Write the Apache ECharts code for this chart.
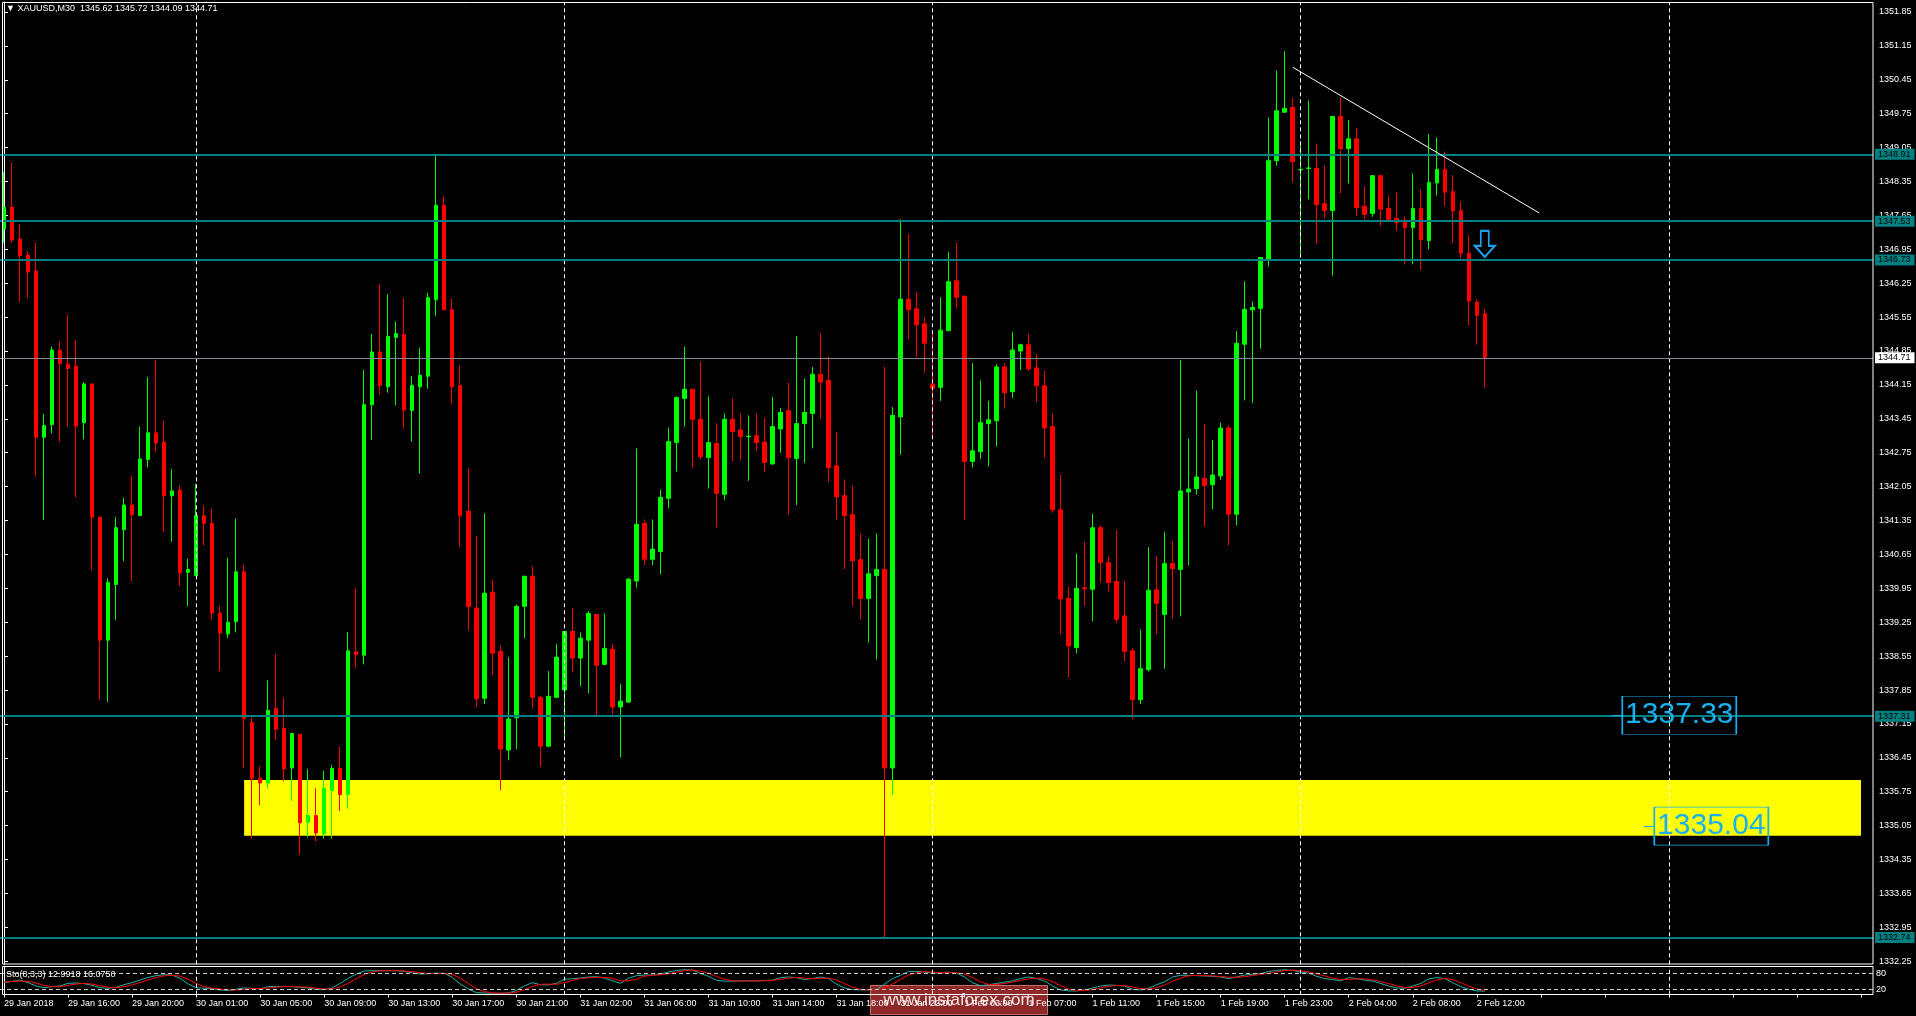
<!DOCTYPE html>
<html><head><meta charset="utf-8">
<script src="https://cdn.jsdelivr.net/npm/echarts@6/dist/echarts.min.js"></script>
<style>html,body{margin:0;padding:0;background:#000;overflow:hidden}#c{width:1916px;height:1016px;}</style>
</head><body><div id="c"></div>
<script>
// ---- DATA (XAUUSD M30) ----
const opens=[1347.37,1347.82,1347.16,1346.83,1346.50,1343.07,1343.33,1344.87,1344.58,1344.54,1343.37,1344.17,1341.42,1338.88,1340.03,1341.16,1341.67,1341.45,1342.61,1343.16,1342.97,1341.86,1341.98,1340.28,1340.21,1341.45,1341.29,1339.44,1339.01,1339.26,1340.29,1337.18,1336.03,1335.93,1337.47,1337.06,1336.24,1336.93,1335.12,1335.26,1334.88,1335.77,1336.23,1335.69,1338.64,1338.57,1343.74,1344.83,1344.11,1345.13,1345.19,1343.62,1344.11,1344.33,1345.91,1347.86,1345.70,1344.14,1341.54,1339.54,1337.68,1339.87,1338.65,1336.61,1337.28,1339.58,1340.20,1337.70,1336.69,1337.70,1337.85,1339.06,1338.51,1338.88,1339.41,1338.38,1338.69,1337.50,1337.60,1340.10,1341.29,1340.55,1340.71,1341.81,1342.96,1343.87,1344.06,1343.44,1342.65,1342.94,1341.89,1343.44,1343.22,1343.08,1343.10,1342.97,1342.52,1343.24,1343.62,1342.63,1343.35,1343.56,1344.37,1344.24,1342.48,1341.86,1341.47,1340.54,1339.74,1340.21,1340.34,1336.24,1343.49,1345.92,1345.72,1345.41,1344.17,1344.10,1345.27,1346.30,1345.98,1342.57,1342.77,1343.35,1343.41,1344.52,1344.01,1344.85,1344.98,1344.50,1344.13,1343.29,1341.57,1339.74,1338.73,1339.96,1339.93,1341.20,1340.48,1340.09,1339.38,1338.66,1337.65,1338.27,1339.92,1339.41,1340.46,1340.34,1341.94,1342.01,1342.22,1342.09,1342.27,1343.26,1341.48,1344.99,1345.70,1345.73,1346.74,1348.78,1349.78,1349.88,1348.59,1348.62,1348.62,1347.89,1347.75,1349.69,1349.03,1349.23,1347.84,1347.69,1348.47,1347.79,1347.59,1347.51,1347.40,1347.79,1347.13,1348.32,1348.60,1348.14,1347.75,1346.87,1345.86,1345.62];
const highs=[1348.54,1348.73,1347.47,1346.91,1347.08,1343.55,1344.94,1345.05,1345.59,1345.08,1344.21,1344.17,1341.42,1340.15,1341.42,1341.82,1342.27,1343.29,1344.31,1344.67,1343.41,1342.41,1342.08,1340.56,1342.11,1341.66,1341.60,1339.58,1340.58,1341.39,1340.44,1337.28,1336.27,1338.05,1338.60,1337.70,1336.97,1336.95,1336.22,1335.82,1336.18,1336.30,1336.68,1339.05,1339.95,1344.46,1345.20,1346.23,1346.02,1345.46,1345.95,1344.33,1344.92,1346.05,1348.88,1348.04,1345.93,1344.55,1342.43,1341.02,1341.50,1340.12,1338.77,1338.53,1339.61,1340.20,1340.40,1337.72,1338.24,1338.80,1339.06,1339.54,1339.04,1339.48,1339.41,1339.43,1338.80,1337.97,1340.16,1342.84,1341.37,1341.37,1341.99,1343.27,1343.91,1344.94,1344.06,1344.63,1343.91,1343.36,1343.56,1343.87,1343.56,1343.52,1343.56,1343.47,1343.90,1343.67,1344.19,1345.16,1344.28,1344.52,1345.22,1344.73,1343.17,1342.20,1342.07,1341.08,1340.97,1341.08,1344.52,1343.69,1347.57,1347.26,1346.07,1345.55,1345.28,1345.96,1346.89,1347.08,1346.00,1344.60,1344.24,1343.82,1344.58,1344.60,1345.24,1345.00,1345.20,1344.79,1344.44,1343.56,1342.29,1339.98,1340.67,1340.91,1341.49,1341.25,1340.61,1341.16,1340.10,1338.72,1339.10,1340.80,1340.62,1341.12,1340.93,1344.66,1343.04,1344.03,1343.34,1343.01,1343.37,1343.32,1345.26,1346.29,1345.87,1346.78,1349.67,1350.64,1351.04,1350.07,1349.15,1350.02,1349.13,1348.68,1349.69,1350.09,1349.62,1349.46,1348.25,1348.47,1348.47,1348.06,1348.12,1347.62,1348.52,1348.19,1349.33,1349.26,1348.97,1348.48,1347.94,1347.24,1345.91,1345.72];
const lows=[1347.09,1347.09,1345.87,1345.95,1342.26,1341.36,1343.15,1342.98,1343.28,1341.83,1343.03,1340.32,1337.64,1337.60,1339.30,1340.51,1340.10,1341.45,1342.45,1342.77,1341.11,1340.91,1340.00,1339.58,1340.21,1340.84,1339.30,1338.24,1338.92,1339.04,1336.24,1334.78,1335.47,1335.82,1336.82,1335.97,1335.56,1334.45,1334.81,1334.73,1334.78,1334.78,1335.35,1335.40,1338.31,1338.38,1343.01,1343.95,1343.99,1343.73,1343.25,1342.98,1342.32,1344.07,1345.57,1345.70,1343.75,1340.81,1339.08,1337.50,1337.56,1338.16,1335.78,1336.40,1336.63,1338.92,1337.47,1336.26,1336.67,1337.68,1336.88,1338.22,1337.93,1337.78,1337.31,1338.36,1337.35,1336.46,1337.60,1339.97,1340.43,1340.43,1340.24,1341.60,1342.36,1343.29,1342.43,1342.61,1342.01,1341.21,1341.77,1342.57,1342.59,1342.17,1342.79,1342.35,1342.50,1342.75,1341.47,1341.67,1342.54,1342.84,1343.45,1342.15,1341.37,1340.35,1339.59,1339.31,1338.83,1338.48,1332.72,1335.68,1342.71,1345.09,1344.73,1344.40,1343.07,1343.82,1345.27,1345.73,1341.36,1342.45,1342.62,1342.47,1342.88,1343.66,1343.88,1344.46,1344.44,1343.80,1342.65,1341.51,1339.00,1338.12,1338.61,1339.59,1339.27,1340.07,1339.89,1339.23,1338.44,1337.25,1337.56,1338.23,1339.01,1338.29,1339.32,1339.37,1340.42,1341.89,1341.22,1341.58,1342.19,1340.84,1341.25,1343.83,1343.78,1344.90,1346.59,1348.68,1349.78,1348.33,1346.78,1347.98,1347.06,1347.59,1346.41,1348.11,1348.31,1347.64,1347.57,1347.62,1347.44,1347.53,1347.33,1346.64,1346.64,1346.52,1346.95,1348.06,1347.84,1347.08,1346.77,1345.38,1344.98,1344.09];
const closes=[1347.82,1347.14,1346.82,1346.48,1343.07,1343.31,1344.87,1344.59,1344.49,1343.30,1344.17,1341.42,1338.88,1340.07,1341.20,1341.67,1341.47,1342.62,1343.16,1342.95,1341.86,1341.96,1340.27,1340.34,1341.45,1341.29,1339.44,1339.03,1339.25,1340.29,1337.26,1336.03,1335.93,1337.43,1337.04,1336.22,1336.95,1335.11,1335.26,1334.90,1335.82,1336.23,1335.69,1338.66,1338.58,1343.74,1344.83,1344.14,1345.15,1345.21,1343.63,1344.14,1344.35,1345.95,1347.86,1345.70,1344.11,1341.45,1339.57,1337.67,1339.85,1338.61,1336.63,1337.25,1339.58,1340.20,1337.70,1336.69,1337.72,1338.53,1339.06,1338.51,1338.92,1339.43,1338.36,1338.71,1337.50,1337.62,1340.14,1341.27,1340.55,1340.76,1341.83,1342.98,1343.89,1344.06,1343.44,1342.67,1342.96,1341.91,1343.44,1343.19,1343.08,1343.09,1342.96,1342.55,1343.29,1343.58,1342.65,1343.35,1343.58,1344.37,1344.21,1342.44,1341.84,1341.45,1340.52,1339.74,1340.25,1340.34,1336.24,1343.52,1345.92,1345.70,1345.39,1345.01,1344.08,1345.28,1346.28,1345.96,1342.57,1342.79,1343.37,1343.43,1344.52,1343.99,1344.87,1344.98,1344.48,1344.13,1343.26,1341.57,1339.73,1338.76,1339.95,1339.94,1341.20,1340.48,1340.07,1339.31,1338.65,1337.65,1338.29,1339.91,1339.64,1340.46,1340.36,1341.96,1342.00,1342.25,1342.07,1342.29,1343.26,1341.48,1345.01,1345.71,1345.75,1346.78,1348.78,1349.81,1349.86,1348.76,1348.60,1348.63,1347.87,1347.75,1349.69,1349.03,1349.23,1347.81,1347.67,1348.47,1347.78,1347.57,1347.50,1347.40,1347.79,1347.15,1348.33,1348.60,1348.13,1347.74,1346.87,1345.88,1345.59,1344.71];
// Stochastic (8,3,3) main and signal
const stochMain=[45.5,50.6,55.7,45.5,32.8,26.4,30.2,32.8,43,44.2,41.7,35.3,26.4,23.8,27.6,37.9,45.5,55.7,66,72.3,76.2,74.9,62.1,40.4,26.4,23.8,22.5,17.4,14.9,20,25.1,23.8,21.3,30.2,31.5,30.2,30.2,27.6,25.1,20,18.7,25.1,43,62.1,78.7,90.2,91.5,91.5,91.5,91.5,88.9,83.8,78.7,80,82.6,81.3,66,40.4,21.3,7.2,5.9,4.7,4.7,5.9,14.9,32.8,45.5,37.9,36.6,43,58.3,60.8,63.4,67.2,68.5,63.4,53.2,43,62.1,72.3,74.9,74.9,78.7,86.4,92.8,95.3,94,81.3,70,55,51.3,51.3,52.5,52.5,52.5,53.8,55,65,67.5,65,57.5,61.3,67.5,61.3,40,25,18.8,17.5,17.5,18.8,40,61.3,73.8,88.8,88.8,86.3,82.5,82.5,86.3,82.5,67.5,45,33.8,37.5,42.5,47.5,52.5,61.3,67.5,61.3,52.5,32.5,17.5,13.8,13.8,17.5,25,32.5,36.3,35,32.5,20,17.5,23.8,37.5,48.8,67.5,73.8,73.8,72.5,71.3,70,67.5,61.3,67.5,75,77.5,80,88.8,92.5,95,92.5,86.3,82.5,70,61.3,57.5,52.5,65,61.3,55,51.3,42.5,32.5,25,23.8,32.5,42.5,60,65,61.3,45,30,20,13.8,12.99];
const stochSignal=[48,50,52,51,44,35,30,30,35,40,43,40,34,28,26,30,37,46,56,65,72,74,71,59,43,30,24,21,18,17,20,23,23,25,28,31,31,29,28,24,21,21,29,43,61,77,87,91,91.5,91.5,90.5,88,84,81,80.5,81.3,76.6,63,43,23,11.5,6,5,5,8.5,18,31,39,40,39,46,54,61,64,66,66,62,53,53,59,70,74,76,80,86,91.5,94,90,82,69,59,53,52,52,52.5,53,54,58,62.5,66,63,61,62,63,56,42,28,20,18,18,25,40,58,75,84,88,86,84,84,84,79,65,49,39,38,42.5,47.5,54,60,63,60,49,34,21,15,15,18.8,25,31,34.5,34.6,29,23,20.5,26,36.7,51,63,71.7,73.4,72.5,71.3,69.6,66.3,66.1,68,73.3,77.5,82,87,92,93.3,91.3,87,79.6,71.3,63,57.1,58.3,59.6,60.4,55.9,49.6,42.1,33.3,27.1,27.1,32.9,45,55.8,62.1,57.1,45.4,31.7,21.3,16.08];
const timeLabels=['29 Jan 2018','29 Jan 16:00','29 Jan 20:00','30 Jan 01:00','30 Jan 05:00','30 Jan 09:00','30 Jan 13:00','30 Jan 17:00','30 Jan 21:00','31 Jan 02:00','31 Jan 06:00','31 Jan 10:00','31 Jan 14:00','31 Jan 18:00','31 Jan 22:00','1 Feb 03:00','1 Feb 07:00','1 Feb 11:00','1 Feb 15:00','1 Feb 19:00','1 Feb 23:00','2 Feb 04:00','2 Feb 08:00','2 Feb 12:00'];
const priceTicks=[1351.85,1351.15,1350.45,1349.75,1349.05,1348.35,1347.65,1346.95,1346.25,1345.55,1344.85,1344.15,1343.45,1342.75,1342.05,1341.35,1340.65,1339.95,1339.25,1338.55,1337.85,1337.15,1336.45,1335.75,1335.05,1334.35,1333.65,1332.95,1332.25];
const levelLines=[1348.91,1347.53,1346.73,1337.31,1332.74];
const bidPrice=1344.71;
const dayLines=[24,70,116,162,208];
const zoneTop=1335.99, zoneBottom=1334.84, zoneFrom=30, zoneTo=232;
const trend=[[161.0,1350.71],[191.8,1347.70]];
const arrowAt=[185,1347.06];
const priceBoxes=[{v:'1337.33',x:209.3,y:1337.33,lx:[200.9,202.2]},{v:'1335.04',x:213.3,y:1335.04,lx:[204.9,206.2]}];
const header='▼ XAUUSD,M30  1345.62 1345.72 1344.09 1344.71';
const stochHeader='Sto(8,3,3) 12.9918 16.0750';
const SLOTS=234;

// ---- BUILD ----
const FONT='"Liberation Sans", Arial, sans-serif';
const cats=Array.from({length:SLOTS},(_,i)=>String(i));
const ohlc=opens.map((o,i)=>[o,closes[i],lows[i],highs[i]]);
const noSym=['none','none'];
const chart=echarts.init(document.getElementById('c'),null,{renderer:'canvas'});
const teal='#008080';
const option={
  backgroundColor:'#000',
  animation:false,
  textStyle:{fontFamily:FONT},
  grid:[
    {left:-0.7,top:2,width:1873.7,height:962.3,show:false},
    {left:-0.7,top:966.3,width:1873.7,height:28.4,show:false}
  ],
  xAxis:[
    {type:'category',gridIndex:0,data:cats,show:false,boundaryGap:true},
    {type:'value',gridIndex:0,min:-0.5,max:SLOTS-0.5,show:false},
    {type:'category',gridIndex:1,data:cats,boundaryGap:true,
      axisLine:{show:false},
      axisTick:{show:true,interval:7,alignWithLabel:true,length:3,inside:false,lineStyle:{color:'#fff'}},
      axisLabel:{interval:7,color:'#fff',fontSize:9,fontFamily:FONT,margin:4,align:'left',
        formatter:(v,i)=>{const k=i/8;return (i%8===0&&timeLabels[k])?timeLabels[k]:'';}}},
    {type:'value',gridIndex:1,min:-0.5,max:SLOTS-0.5,show:false}
  ],
  yAxis:[
    {type:'value',gridIndex:0,position:'right',min:1332.187,max:1352.056,scale:true,
      splitLine:{show:false},
      axisLine:{show:true,lineStyle:{color:'#fff',width:1}},
      axisTick:{show:true,customValues:priceTicks,length:4,lineStyle:{color:'#fff'}},
      axisLabel:{customValues:priceTicks,formatter:v=>v.toFixed(2),color:'#fff',fontSize:9,fontFamily:FONT,margin:6}},
    {type:'value',gridIndex:1,position:'right',min:-0.8,max:108.5,
      splitLine:{show:false},
      axisLine:{show:true,lineStyle:{color:'#fff'}},
      axisTick:{show:false},
      axisLabel:{customValues:[20,80],color:'#fff',fontSize:9,fontFamily:FONT,margin:3}}
  ],
  series:[
    {type:'line',xAxisIndex:1,yAxisIndex:0,data:[],silent:true,z:1,
      markArea:{silent:true,itemStyle:{color:'#ffff00',opacity:1},
        data:[[{coord:[zoneFrom,zoneTop]},{coord:[zoneTo,zoneBottom]}]]},
      markLine:{silent:true,symbol:noSym,animation:false,
        data:[
          ...dayLines.map(d=>({xAxis:d,lineStyle:{color:'#fff',type:[4,3],width:1},label:{show:false}})),
          ...levelLines.map(v=>({yAxis:v,lineStyle:{color:teal,type:'solid',width:2},
             label:{show:true,position:'end',distance:2,formatter:v.toFixed(2),backgroundColor:teal,color:'#000',
               fontSize:9,fontFamily:FONT,padding:[1,4,1,3]}})),
          {yAxis:bidPrice,lineStyle:{color:'#7f8a99',type:'solid',width:1},
             label:{show:true,position:'end',distance:2,formatter:bidPrice.toFixed(2),backgroundColor:'#fff',color:'#000',
               fontSize:9,fontFamily:FONT,padding:[1,4,1,3]}}
        ]}
    },
    {type:'candlestick',xAxisIndex:0,yAxisIndex:0,data:ohlc,barWidth:4,z:3,
      itemStyle:{color:'#00ff00',color0:'#ff0000',borderColor:'#00ff00',borderColor0:'#ff0000',borderWidth:1}},
    {type:'line',xAxisIndex:1,yAxisIndex:0,data:[],silent:true,z:5,
      markLine:{silent:true,symbol:noSym,animation:false,
        data:[
          [{coord:trend[0],lineStyle:{color:'#fff',width:1,type:'solid'},label:{show:false}},{coord:trend[1]}],
          ...priceBoxes.map(b=>[{coord:[b.lx[0],b.y],lineStyle:{color:'#1ab0f0',width:1,type:'solid'},label:{show:false}},{coord:[b.lx[1],b.y]}])
        ]},
      markPoint:{silent:true,animation:false,
        data:[
          {coord:arrowAt,symbol:'path://M6,0 L14,0 L14,15 L20,15 L10,26 L0,15 L6,15 Z',symbolSize:[20,26],
            itemStyle:{color:'rgba(0,0,0,0)',borderColor:'#1c9fe8',borderWidth:2},label:{show:false}},
          ...priceBoxes.map(b=>({coord:[b.x,b.y],symbol:'rect',symbolSize:[114,38],
            itemStyle:{color:'rgba(0,0,0,0)',borderColor:'#1ab0f0',borderWidth:1},
            label:{show:true,position:'inside',formatter:b.v,color:'#1ab0f0',fontSize:30,fontFamily:FONT}}))
        ]}
    },
    {type:'line',xAxisIndex:2,yAxisIndex:1,data:stochMain,showSymbol:false,z:3,
      lineStyle:{color:'#20b2aa',width:1},
      markLine:{silent:true,symbol:noSym,animation:false,
        data:[{yAxis:80},{yAxis:20}],lineStyle:{color:'#c8c8c8',type:[4,3],width:1},label:{show:false}}},
    {type:'line',xAxisIndex:2,yAxisIndex:1,data:stochSignal,showSymbol:false,z:4,
      lineStyle:{color:'#ff0000',width:1}},
    {type:'line',xAxisIndex:3,yAxisIndex:1,data:[],silent:true,z:2,
      markLine:{silent:true,symbol:noSym,animation:false,
        data:dayLines.map(d=>({xAxis:d})),lineStyle:{color:'#fff',type:[4,3],width:1},label:{show:false}}}
  ],
  graphic:[
    {type:'rect',z:100,silent:true,shape:{x:2.5,y:2.5,width:1870.5,height:961.5},style:{fill:null,stroke:'#fff',lineWidth:1}},
    {type:'rect',z:100,silent:true,shape:{x:2.5,y:966.5,width:1870.5,height:28},style:{fill:null,stroke:'#fff',lineWidth:1}},
    {type:'text',z:100,left:6,top:4,style:{text:header,fill:'#fff',font:'9px '+FONT}},
    {type:'text',z:100,left:6,top:970,style:{text:stochHeader,fill:'#fff',font:'9px '+FONT}},
    {type:'group',z:110,left:870,top:985,children:[
      {type:'rect',shape:{x:0,y:0,width:177,height:29},style:{fill:'rgba(168,48,48,0.85)',stroke:'rgba(210,120,120,0.9)',lineWidth:1}},
      {type:'text',style:{text:'www.instaforex.com',x:88.5,y:14.5,align:'center',verticalAlign:'middle',fill:'#f4e6e6',font:'17px '+FONT}}
    ]}
  ]
};
chart.setOption(option);
</script>
</body></html>
